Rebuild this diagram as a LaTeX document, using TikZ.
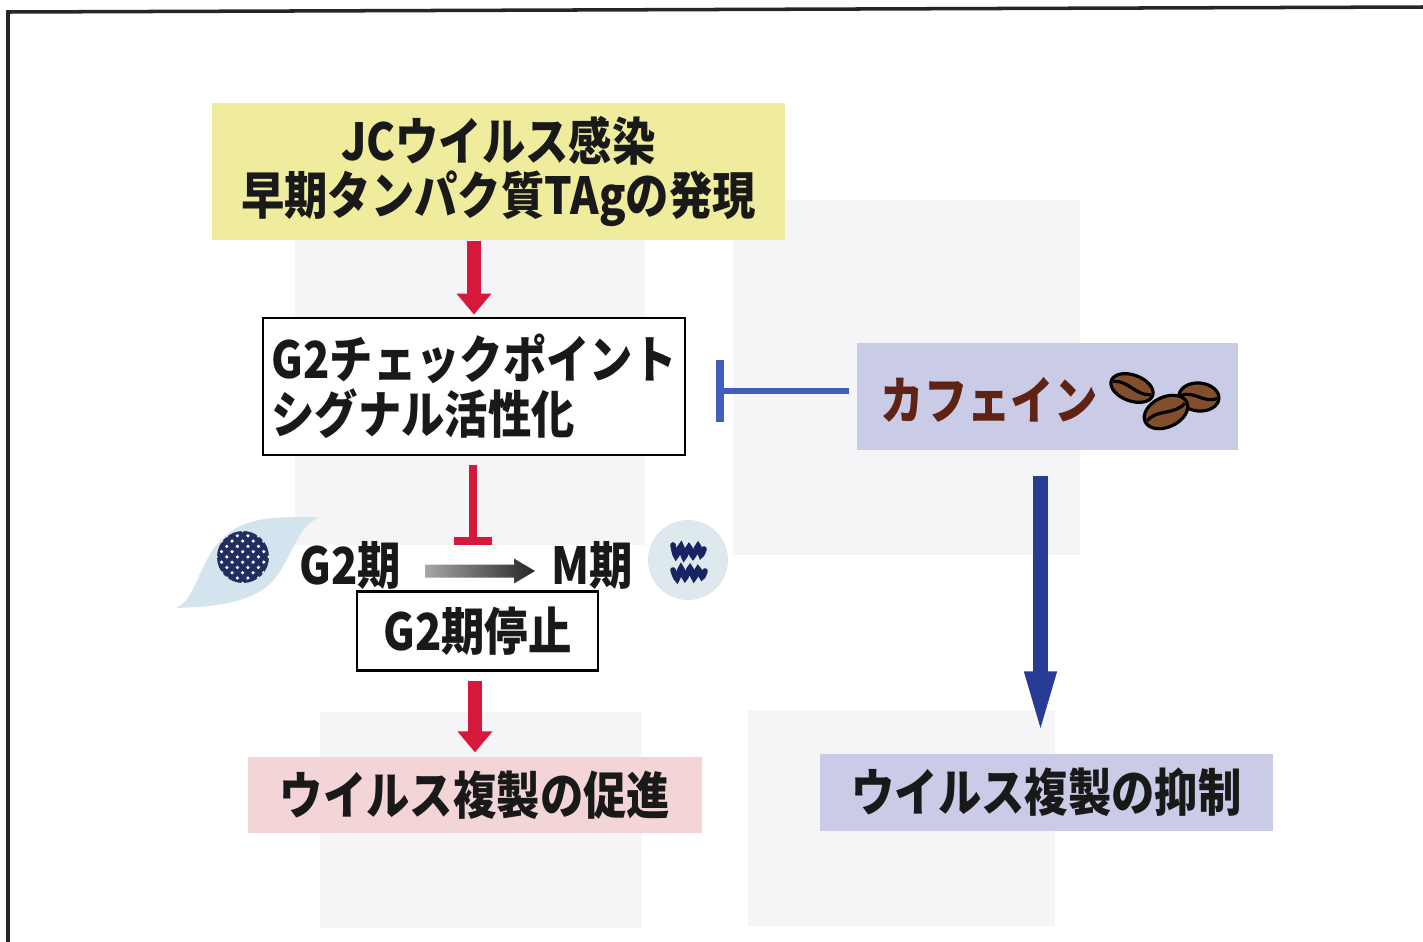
\documentclass[tikz,border=0pt]{standalone}
\usepackage{fontspec}
\setmainfont{Noto Sans CJK JP}[FakeStretch=0.85]
\usetikzlibrary{arrows.meta, calc, patterns}

\definecolor{tagyellow}{RGB}{240,236,158}
\definecolor{sigred}{RGB}{214,24,58}
\definecolor{inhblue}{RGB}{65,95,185}
\definecolor{arrblue}{RGB}{40,60,150}
\definecolor{lavender}{RGB}{201,203,231}
\definecolor{promopink}{RGB}{243,213,216}
\definecolor{cafbrown}{RGB}{95,35,20}
\definecolor{ghost}{RGB}{245,245,248}
\definecolor{cellblue}{RGB}{212,228,238}
\definecolor{nucleus}{RGB}{35,45,95}
\definecolor{mcell}{RGB}{222,233,237}
\definecolor{chromo}{RGB}{25,35,100}
\definecolor{bean}{RGB}{130,78,45}

\begin{document}
\begin{tikzpicture}[x=0.01cm, y=-0.01cm,
  txt/.style = {font=\fontsize{14.5}{15.6}\selectfont\bfseries, text=black!90},
  box/.style = {txt, draw, line width=0.7pt, fill=white, inner sep=0pt},
  panel/.style = {txt, inner sep=0pt},
  redarrow/.style = {sigred, line width=3.7pt, -{Triangle[width=9.6pt, length=6pt]}},
  redbar/.style = {sigred, line width=2.3pt, -{Bar[width=11pt, line width=2.3pt]}},
  bluebar/.style = {inhblue, line width=1.7pt, -{Bar[width=17.6pt, line width=2.3pt]}},
  bluearrow/.style = {arrblue, line width=4pt, -{Triangle[width=8pt, length=18.5pt]}},
  beanstyle/.style = {fill=bean, draw=black, line width=0.9pt}]
\useasboundingbox (0,0) rectangle (1423,942);

% faint panels in the background
\fill[ghost] (295,232) rectangle (645,545);
\fill[ghost] (733,200) rectangle (1080,555);
\fill[ghost] (320,712) rectangle (642,928);
\fill[ghost] (748,710) rectangle (1055,926);

\draw[line width=1pt, black!85] (8,942) -- (8,12) -- (1423,7);

% boxes
\node[panel, fill=tagyellow, minimum width=5.73cm, minimum height=1.37cm, align=center] (tag) at (498.5,171.5)
  {JCウイルス感染\\早期タンパク質TAgの発現};
\node[box, minimum width=4.22cm, minimum height=1.37cm, align=left] (chk) at (474,386.5)
  {G2チェックポイント\\シグナル活性化};
\node[box, minimum width=2.41cm, minimum height=0.79cm] (arrest) at (477.5,631) {G2期停止};
\node[panel, fill=promopink, minimum width=4.54cm, minimum height=0.76cm] (promo) at (475,795) {ウイルス複製の促進};
\node[panel, fill=lavender, minimum width=3.81cm, minimum height=1.07cm] (caf) at (1047.5,396.5) {};
\node[txt, text=cafbrown, anchor=west, inner sep=0pt] (caftxt) at (880,400) {カフェイン};
\node[panel, fill=lavender, minimum width=4.53cm, minimum height=0.77cm] (supp) at (1046.5,792.5) {ウイルス複製の抑制};

% cell cycle
\node[txt] (g2) at (350,565) {G2期};
\node[txt] (mph) at (592,565) {M期};
\coordinate (ga) at ($(g2.center)+(75,6)$);
\coordinate (gb) at ($(mph.center)+(-57,6)$);
\shade[left color=black!35, right color=black!85]
  ($(ga)+(0,-6.5)$) -- ($(gb)+(-21,-6.5)$) -- ($(gb)+(-21,-12.5)$) -- (gb)
  -- ($(gb)+(-21,12.5)$) -- ($(gb)+(-21,6.5)$) -- ($(ga)+(0,6.5)$) -- cycle;

% G2 cell
\fill[cellblue] (176,608) .. controls (200,598) and (198,548) .. (238,527)
  .. controls (265,514) and (295,518) .. (320,517)
  .. controls (296,526) and (292,560) .. (272,582)
  .. controls (250,604) and (210,607) .. (176,608) -- cycle;
\fill[nucleus] (243,557) circle (26);
\fill[pattern=crosshatch dots, pattern color=white] (243,557) circle (26);

% M cell
\fill[mcell] (688,560) circle (40);
\draw[chromo, line width=1.6pt, line cap=round] plot[smooth] coordinates
  {(673,545) (676,556) (681,546) (684,557) (689,547) (693,556) (698,546) (701,555) (704,549)};
\draw[chromo, line width=1.6pt, line cap=round] plot[smooth] coordinates
  {(673,570) (677,579) (681,568) (685,578) (690,568) (694,578) (698,569) (702,577) (705,571)};

% coffee beans
\foreach \x/\y/\a/\l/\w in {1132/388/-20/22/13, 1199/397/-5/20/14, 1166/412/25/23/15} {
  \draw[beanstyle, rotate around={\a:(\x,\y)}] (\x,\y) ellipse ({\l} and {\w});
  \draw[black, line width=0.9pt, rotate around={\a:(\x,\y)}]
    ({\x-0.9*\l},\y) .. controls ({\x-0.3*\l},{\y-0.45*\w}) and ({\x+0.3*\l},{\y+0.45*\w}) .. ({\x+0.9*\l},\y);
}

% connectors
\coordinate (stop) at (473,545);
\coordinate (cafstop) at (716,391);
\draw[redarrow, shorten >=0.6pt] (chk.north |- tag.south) -- (chk.north);
\draw[redbar, shorten <=2.6pt] (stop |- chk.south) -- (stop);
\draw[redarrow, shorten <=2.6pt, shorten >=1.1pt] (promo.north |- arrest.south) -- (promo.north);
\draw[bluebar, shorten <=2pt] (caf.west |- cafstop) -- (cafstop);
\draw[bluearrow, shorten <=7.1pt, shorten >=4.8pt] ([xshift=-0.7mm]caf.south) -- ([xshift=-0.7mm]caf.south |- supp.north);
\end{tikzpicture}
\end{document}
